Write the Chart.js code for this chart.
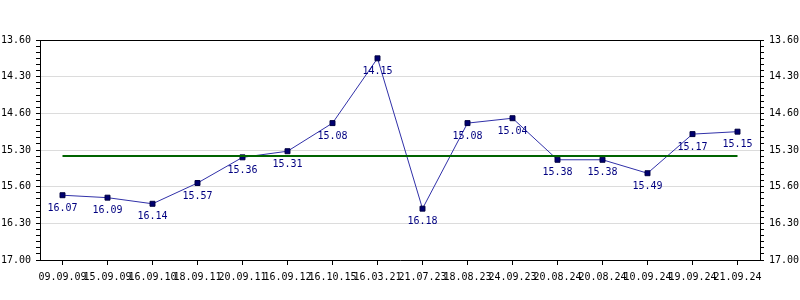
<!DOCTYPE html>
<html>
<head>
<meta charset="utf-8">
<script src="https://cdn.jsdelivr.net/npm/chart.js@4/dist/chart.umd.min.js"></script>
<style>
  body { margin: 0; background: #fff; }
  canvas { display: block; }
</style>
</head>
<body>
<canvas id="chart" width="800" height="300"></canvas>
<script>
// dates of each run
const xLabels = ['09.09.09', '15.09.09', '16.09.10', '18.09.11', '20.09.11', '16.09.12', '16.10.15', '16.03.21',
    '21.07.23', '18.08.23', '24.09.23', '20.08.24', '20.08.24', '10.09.24', '19.09.24', '21.09.24'];
// times as written on the chart (min.sec)
const times = ['16.07', '16.09', '16.14', '15.57', '15.36', '15.31', '15.08', '14.15',
    '16.18', '15.08', '15.04', '15.38', '15.38', '15.49', '15.17', '15.15'];
// average line (min.sec)
const avgTime = '15.35';

// y axis ticks (minutes) and how they are labelled
const yTickValues = [14, 14.5, 15, 15.5, 16, 16.5, 17];
const yTickLabels = ['13.60', '14.30', '14.60', '15.30', '15.60', '16.30', '17.00'];

const FONT = '"DejaVu Sans Mono", "Liberation Mono", monospace';

// "16.07" -> 16 min 7 s -> minutes
function toMinutes(t) {
    const [m, s] = t.split('.');
    return Number(m) + Number(s) / 60;
}

// 5 second steps between the labelled ticks
function buildTicks(scale) {
    const ticks = [];
    const first = yTickValues[0];
    const last = yTickValues[yTickValues.length - 1];
    const n = Math.round((last - first) * 12);
    for (let i = 0; i <= n; i++) ticks.push({ value: first + i / 12 });
    scale.ticks = ticks;
}

function yAxis(position) {
    return {
        position: position,
        type: 'linear',
        reverse: true,
        min: yTickValues[0],
        max: yTickValues[yTickValues.length - 1],
        afterBuildTicks: buildTicks,
        afterFit: s => { s.width = 40; },
        border: { color: '#000', width: 1 },
        grid: {
            color: c => (c.index % 6 === 0 ? '#dcdcdc' : 'rgba(0,0,0,0)'),
            tickColor: '#000',
            tickLength: 4,
            drawTicks: true
        },
        ticks: {
            autoSkip: false,
            padding: 5,
            color: '#000',
            font: { family: FONT, size: 10 },
            callback: (v, i) => (i % 6 === 0 ? yTickLabels[i / 6] : '')
        }
    };
}

// values under the points
const pointLabels = {
    id: 'pointLabels',
    afterDatasetsDraw(chart) {
        const ctx = chart.ctx;
        const meta = chart.getDatasetMeta(1);
        ctx.save();
        ctx.font = '10px ' + FONT;
        ctx.fillStyle = '#000080';
        ctx.textAlign = 'center';
        ctx.textBaseline = 'top';
        meta.data.forEach((pt, i) => {
            ctx.fillText(times[i], pt.x, pt.y + 8);
        });
        ctx.restore();
    },
    afterDraw(chart) {
        const a = chart.chartArea;
        const ctx = chart.ctx;
        ctx.save();
        ctx.strokeStyle = '#000';
        ctx.lineWidth = 1;
        ctx.beginPath();
        ctx.moveTo(a.left, Math.round(a.top) + 0.5);
        ctx.lineTo(a.right, Math.round(a.top) + 0.5);
        ctx.stroke();
        ctx.restore();
    }
};

new Chart(document.getElementById('chart'), {
    type: 'line',
    data: {
        labels: xLabels,
        datasets: [{
            label: 'average',
            data: [
                { x: xLabels[0], y: toMinutes(avgTime) },
                { x: xLabels[xLabels.length - 1], y: toMinutes(avgTime) }
            ],
            borderColor: '#006400',
            borderWidth: 2,
            pointRadius: 0,
            yAxisID: 'y'
        }, {
            label: 'time',
            data: times.map(toMinutes),
            borderColor: '#3030a8',
            borderWidth: 1,
            pointStyle: 'rect',
            pointRadius: 3.5,
            pointBackgroundColor: '#000070',
            pointBorderColor: '#000040',
            pointBorderWidth: 1,
            tension: 0,
            yAxisID: 'y'
        }]
    },
    options: {
        responsive: false,
        animation: false,
        layout: { padding: { top: 40, left: 0, right: 0, bottom: 0 } },
        plugins: {
            legend: { display: false },
            tooltip: { enabled: false }
        },
        scales: {
            x: {
                offset: true,
                afterFit: s => { s.height = 40; },
                border: { color: '#000', width: 1 },
                grid: {
                    drawOnChartArea: false,
                    tickColor: '#000',
                    tickLength: 5
                },
                ticks: {
                    autoSkip: false,
                    maxRotation: 0,
                    minRotation: 0,
                    padding: 6,
                    color: '#000',
                    font: { family: FONT, size: 10 }
                }
            },
            y: yAxis('left'),
            y2: yAxis('right')
        }
    },
    plugins: [pointLabels]
});
</script>
</body>
</html>
